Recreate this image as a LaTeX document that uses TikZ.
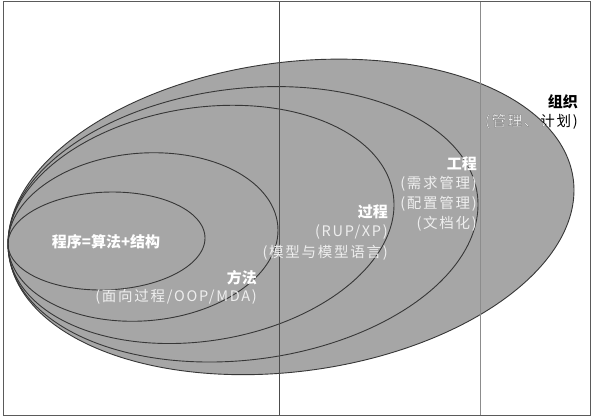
\documentclass[tikz,border=0pt]{standalone}
\usepackage{fontspec}
\setmainfont{Noto Sans CJK SC}
\definecolor{fillgray}{RGB}{166,166,166}
\definecolor{edgegray}{RGB}{55,55,55}
\definecolor{subtext}{RGB}{238,238,238}
\definecolor{framegray}{RGB}{90,90,90}
\begin{document}
\begin{tikzpicture}[x=1pt, y=-1pt,
  ell/.style={draw=edgegray, line width=0.9pt},
  biglabel/.style={font=\fontsize{15}{15}\selectfont\bfseries, text=white, inner sep=0pt},
  sublabel/.style={font=\fontsize{14.5}{15}\selectfont\addfontfeature{LetterSpace=12}, text=subtext, inner sep=0pt},
  vline/.style={line width=0.9pt}]
\useasboundingbox (0,0) rectangle (593,418);
\fill[white] (0,0) rectangle (593,418);
% 组织
\filldraw[fill=fillgray, ell] plot[domain=0:357, samples=120, smooth cycle]
  ({291+283*cos(\x)}, {216.9-0.0945*283*cos(\x)+155.5*sin(\x)});
% 工程
\draw[ell] plot[domain=0:357, samples=120, smooth cycle]
  ({243+235*cos(\x)}, {224.3-0.0838*235*cos(\x)+136.3*sin(\x)});
% 过程
\draw[ell] plot[domain=0:357, samples=120, smooth cycle]
  ({201+193*cos(\x)}, {224.4-0.1015*193*cos(\x)+117.5*sin(\x)});
% 方法
\draw[ell] plot[domain=0:357, samples=120, smooth cycle]
  ({143+135*cos(\x)}, {237-0.05*135*cos(\x)+84*sin(\x)});
% 程序
\draw[ell] plot[domain=0:357, samples=120, smooth cycle]
  ({106.5+98.5*cos(\x)}, {241-0.03*98.5*cos(\x)+48.9*sin(\x)});
% vertical lines and frame
\coordinate (l1t) at (279,1.5); \coordinate (l1b) at (279,415.5);
\coordinate (l2t) at (480.5,1.5); \coordinate (l2b) at (480.5,415.5);
\draw[vline, draw=black!70] (l1t) -- (l1b);
\draw[vline, draw=black!45] (l2t) -- (l2b);
\draw[framegray, line width=1pt] (3.5,1.5) rectangle (590.5,415.5);
% labels
\node[biglabel] (prog) at (106,242) {程序=算法+结构};
\node[biglabel, anchor=east] (fangfa) at (257,278) {方法};
\node[sublabel, anchor=east] (fangfasub) at (257,297) {(面向过程/OOP/MDA)};
\node[biglabel, anchor=east] (guocheng) at (388,212) {过程};
\node[sublabel, anchor=east] (guochengsub1) at (388,231.5) {(RUP/XP)};
\node[sublabel, anchor=east] (guochengsub2) at (388,252.5) {(模型与模型语言)};
\node[biglabel, anchor=east] (gongcheng) at (477,163.5) {工程};
\node[sublabel, anchor=east] (gcsub1) at (477,184) {(需求管理)};
\node[sublabel, anchor=east] (gcsub2) at (477,203.5) {(配置管理)};
\node[sublabel, anchor=east] (gcsub3) at (477,223.5) {(文档化)};
\node[biglabel, anchor=east, text=black] (zuzhi) at (578,101.5) {组织};
\node[sublabel, anchor=east, text=black] (zzsub) at (578,121.5) {(管理、计划)};
\begin{scope}
  \clip plot[domain=0:357, samples=120, smooth cycle]
    ({291+283*cos(\x)}, {216.9-0.0945*283*cos(\x)+155.5*sin(\x)});
  \node[sublabel, anchor=east] (zzsubw) at (578,121.5) {(管理、计划)};
\end{scope}
\end{tikzpicture}
\end{document}
